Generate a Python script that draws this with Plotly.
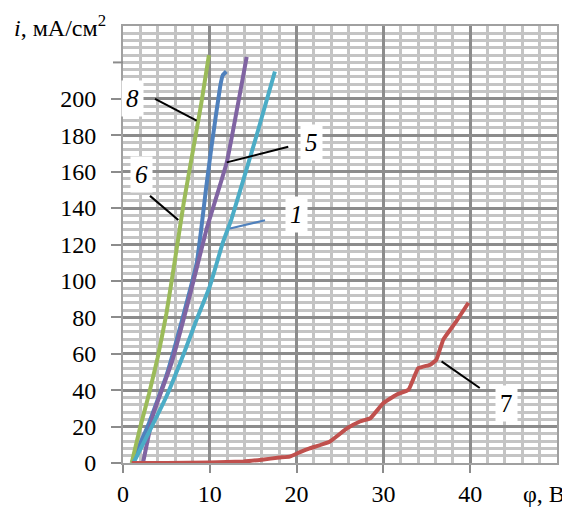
import plotly.graph_objects as go

# Series data (phi, V ; i, mA/cm2)
c8_x = [1.0, 2.0, 3.0, 4.0, 5.0, 6.0, 7.0, 8.0, 9.0, 9.9]
c8_y = [0, 20, 38, 58, 82, 112, 143, 170, 197, 224]

c6_x = [1.0, 3.0, 5.0, 7.0, 8.5, 9.0, 9.6, 10.2, 11.2, 11.5, 11.9]
c6_y = [0, 22, 48, 82, 110, 128, 152, 174, 207, 213, 215]

c5_x = [2.3, 3.5, 5.6, 7.7, 9.6, 11.95, 14.25]
c5_y = [0, 27, 55, 92, 128, 165, 223]

c1_x = [1.2, 3.0, 5.0, 7.0, 8.5, 10.0, 11.5, 12.5, 13.9, 15.4, 17.5]
c1_y = [0, 17, 36.5, 60, 79, 97, 121, 134, 156, 180, 215]

c7_x = [1, 5, 10, 13.9, 16, 18, 19.2, 20.4, 21.5, 23.8, 25.8, 27.3, 28.5, 30,
        31.5, 32.9, 34, 35.4, 36.1, 36.9, 38.4, 39.8]
c7_y = [0, 0, 0.3, 0.8, 1.8, 3, 3.5, 6, 8, 11.7, 19, 22.8, 24.6, 32.9,
        37.5, 40.2, 52, 54, 56.7, 67.8, 77.8, 88]

y_ticks = [0, 20, 40, 60, 80, 100, 120, 140, 160, 180, 200]
y_extra_tick = 220  # tick mark without a label
x_ticks = [0, 10, 20, 30, 40]

FONT = "Liberation Serif"

fig = go.Figure()
series = [
    (c6_x, c6_y, "#4F81BD"),
    (c5_x, c5_y, "#8064A2"),
    (c8_x, c8_y, "#9BBB59"),
    (c1_x, c1_y, "#4BACC6"),
    (c7_x, c7_y, "#C0504D"),
]
for xs, ys, col in series:
    fig.add_trace(go.Scatter(x=xs, y=ys, mode="lines",
                             line=dict(color=col, width=4, shape="spline", smoothing=0.3),
                             showlegend=False, hoverinfo="skip"))

# leader lines
leaders = [
    (3.69, 200, 8.49, 188, "black", 2),
    (3.11, 146.7, 6.37, 133.5, "black", 2),
    (19.04, 173.7, 11.95, 165.1, "black", 2),
    (12.33, 128.8, 16.36, 133.3, "#4F81BD", 2),
    (36.7, 55.8, 41.1, 41.2, "black", 2),
]
for x0, y0, x1, y1, col, w in leaders:
    fig.add_shape(type="line", x0=x0, y0=y0, x1=x1, y1=y1, xref="x", yref="y",
                  line=dict(color=col, width=w))

# unlabeled tick at 220
fig.add_shape(type="line", x0=-0.023, x1=0, xref="paper", y0=y_extra_tick, y1=y_extra_tick,
              yref="y", line=dict(color="#8c8c8c", width=2))

labels = [
    (1.15, 200, "<i>8</i>"),
    (2.15, 158.7, "<i>6</i>"),
    (21.74, 176.1, "<i>5</i>"),
    (20.0, 136.6, "<i>1</i>"),
    (44.2, 32.9, "7"),
]
for x, y, t in labels:
    fig.add_annotation(x=x, y=y, xref="x", yref="y", text=t, showarrow=False,
                       font=dict(family=FONT, size=25, color="black"),
                       bgcolor="white", borderpad=4)

fig.add_annotation(x=-0.256, y=1.0, xref="paper", yref="paper", xanchor="left", yanchor="middle",
                   text="<i>i</i>, мА/см<sup>2</sup>", showarrow=False,
                   font=dict(family=FONT, size=24, color="black"), bgcolor="white")
fig.add_annotation(x=1.023, y=-0.07, xref="paper", yref="paper", xanchor="right", yanchor="middle",
                   text="φ, В", showarrow=False,
                   font=dict(family=FONT, size=24, color="black"))

# page body has an 8px margin: size/margins compensate so the plot area sits where the reference has it
fig.update_layout(
    width=562, height=499,
    margin=dict(l=115, r=13, t=18, b=44, autoexpand=False),
    paper_bgcolor="white", plot_bgcolor="white",
    font=dict(family=FONT, size=24, color="black"),
)
fig.update_xaxes(range=[0, 50], tickvals=x_ticks, ticks="outside", ticklen=8,
                 tickcolor="#8c8c8c", tickwidth=2, ticklabelstandoff=0, automargin=False,
                 showgrid=True, gridcolor="#8c8c8c", gridwidth=2.5,
                 minor=dict(dtick=2, showgrid=True, gridcolor="#c4c4c4", gridwidth=2.5),
                 showline=True, linecolor="#a0a0a0", linewidth=2, mirror=True,
                 zeroline=False, tickfont=dict(family=FONT, size=24))
fig.update_yaxes(range=[0, 240], tickvals=y_ticks, ticks="outside",
                 ticklen=10, tickcolor="#8c8c8c", tickwidth=2, ticklabelstandoff=10, automargin=False,
                 showgrid=True, gridcolor="#8c8c8c", gridwidth=2.5,
                 minor=dict(dtick=4, showgrid=True, gridcolor="#c4c4c4", gridwidth=2.5),
                 showline=True, linecolor="#a0a0a0", linewidth=2, mirror=True,
                 zeroline=False, tickfont=dict(family=FONT, size=24))

fig.write_html("out.html")
